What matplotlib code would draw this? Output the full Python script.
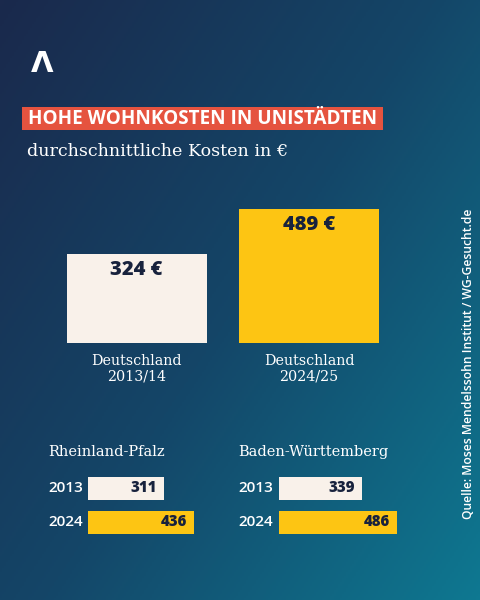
import numpy as np
import matplotlib.pyplot as plt
from matplotlib.colors import LinearSegmentedColormap

# data
big_labels = ['Deutschland\n2013/14', 'Deutschland\n2024/25']
big_values = [324, 489]
years = ['2013', '2024']
regions = ['Rheinland-Pfalz', 'Baden-Württemberg']
region_values = {'Rheinland-Pfalz': [311, 436], 'Baden-Württemberg': [339, 486]}

cream = '#f9f1ea'
yellow = '#fdc513'
ink = '#18223d'
red = '#e5533f'
W, H = 480, 600

fig = plt.figure(figsize=(W / 100, H / 100), dpi=100)


def px_axes(x0, y0, x1, y1):
    # axes from pixel box (top-left origin)
    return fig.add_axes([x0 / W, 1 - y1 / H, (x1 - x0) / W, (y1 - y0) / H])


# background gradient
bg = fig.add_axes([0, 0, 1, 1])
bg.set_xlim(0, W)
bg.set_ylim(H, 0)
bg.axis('off')
xx, yy = np.meshgrid(np.linspace(0, 1, 240), np.linspace(0, 1, 300))
t = np.clip(0.55 * xx + 0.45 * yy, 0, 1)
cmap = LinearSegmentedColormap.from_list('bg', ['#1a294c', '#144668', '#0e7891'])
bg.imshow(t, cmap=cmap, extent=[0, W, H, 0], aspect='auto', zorder=0)

# logo
bg.text(42, 64, 'Λ', color='white', fontsize=21, fontweight='bold',
        family='DejaVu Sans', ha='center', va='center')

# title
bg.add_patch(plt.Rectangle((22, 107), 361, 23, color=red, lw=0))
bg.text(28, 119, 'HOHE WOHNKOSTEN IN UNISTÄDTEN', color='white', fontsize=13.6,
        fontweight='bold', family='Open Sans', ha='left', va='center')
bg.text(27, 152, 'durchschnittliche Kosten in €', color='white', fontsize=12.6,
        family='DejaVu Serif', ha='left', va='center')

# source
bg.text(469, 364, 'Quelle: Moses Mendelssohn Institut / WG-Gesucht.de', color='white',
        fontsize=8.7, fontweight='semibold', family='Open Sans', rotation=90,
        ha='center', va='center')

# big bars: baseline y=343 px, 489 -> 134 px
ax = px_axes(40, 190, 420, 343)
px_per_unit = 172.5
ax.set_xlim(-96.5 / px_per_unit, 283.5 / px_per_unit)
ax.set_ylim(0, 489 * 153 / 134)
ax.bar(range(2), big_values, width=140 / px_per_unit, color=[cream, yellow])
for i, v in enumerate(big_values):
    ax.annotate(f'{v} €', (i, v), xytext=(0, -16), textcoords='offset pixels',
                ha='center', va='center', fontsize=14.5, fontweight='heavy',
                family='Open Sans', color=ink)
ax.axis('off')

for i, lab in enumerate(big_labels):
    ax.annotate(lab, (i, 0), xytext=(0, -26), textcoords='offset pixels',
                ha='center', va='center', fontsize=10.3, family='DejaVu Serif',
                color='white', linespacing=1.15)

# small bars
starts = [88, 279]
label_x = [48, 238]
scale = 0.2435
for reg, x0, lx in zip(regions, starts, label_x):
    sax = px_axes(x0, 471, x0 + 200, 540)
    sax.set_xlim(0, 200 / scale)
    sax.set_ylim(1 + 17.5 / 34, -17.5 / 34)
    vals = region_values[reg]
    sax.barh(range(2), vals, height=23 / 34, color=[cream, yellow])
    for i, v in enumerate(vals):
        sax.annotate(str(v), (v, i), xytext=(-7, 0), textcoords='offset pixels',
                     ha='right', va='center', fontsize=10.8, fontweight='heavy',
                     family='Open Sans', color=ink)
    sax.axis('off')
    bg.text(lx, 452, reg, color='white', fontsize=10.5, family='DejaVu Serif',
            ha='left', va='center')
    for i, yr in enumerate(years):
        bg.text(lx, 488 + 34 * i, yr, color='white', fontsize=11,
                family='Open Sans', fontweight='semibold', ha='left', va='center')

fig.savefig('out.png', dpi=100)
